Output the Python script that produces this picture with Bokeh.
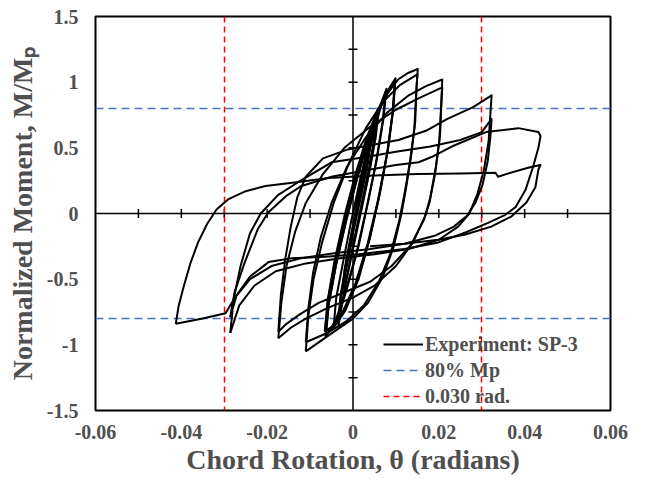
import math
from bokeh.plotting import figure
from bokeh.models import Span, FixedTicker, Legend, LegendItem
from bokeh.embed import file_html
from bokeh.resources import INLINE

# ---------------- data (chord rotation [rad], normalized moment M/Mp) ----------------
cyc_e1 = [(0, 0), (0.0015, 0.2), (0.003, 0.42), (0.004, 0.58), (0.0035, 0.42), (0.002, 0.18),
          (0.0, -0.12), (-0.0013, -0.36), (-0.0025, -0.6), (-0.002, -0.43), (-0.0005, -0.17),
          (0.001, 0.07), (0.0025, 0.31), (0.0042, 0.58), (0.0036, 0.4), (0.002, 0.15),
          (0.0, -0.15), (-0.0014, -0.39), (-0.0026, -0.6)]
cyc_e2 = [(-0.0026, -0.6), (-0.0015, -0.36), (0.0, -0.1), (0.0015, 0.15), (0.003, 0.39),
          (0.0045, 0.61), (0.0058, 0.8), (0.0051, 0.6), (0.0037, 0.34), (0.0019, 0.06),
          (0.0, -0.24), (-0.0018, -0.54), (-0.0034, -0.86), (-0.0028, -0.63), (-0.0014, -0.37),
          (0.0002, -0.1), (0.002, 0.2), (0.0038, 0.48), (0.006, 0.79), (0.0053, 0.58),
          (0.0038, 0.31), (0.002, 0.03), (0.0, -0.27), (-0.0019, -0.57), (-0.0035, -0.84)]
cyc_e3a = [(-0.0035, -0.84), (-0.0029, -0.62), (-0.0013, -0.33), (0.0005, -0.03), (0.0025, 0.29),
           (0.0045, 0.57), (0.0062, 0.78), (0.0078, 0.95), (0.0071, 0.72), (0.0056, 0.42),
           (0.0036, 0.1), (0.0013, -0.25), (-0.0014, -0.57), (-0.003, -0.74), (-0.0045, -0.86)]
cyc_e3b = [(-0.0045, -0.86), (-0.0039, -0.64), (-0.0022, -0.35), (-0.0003, -0.04), (0.0018, 0.28),
           (0.0038, 0.56), (0.0058, 0.78), (0.0076, 0.93), (0.0069, 0.7), (0.0053, 0.38),
           (0.0032, 0.05), (0.0008, -0.3), (-0.0018, -0.6), (-0.004, -0.81), (-0.0064, -0.94)]
cyc_10a = [(-0.0064, -0.94), (-0.0057, -0.7), (-0.004, -0.4), (-0.0017, -0.07), (0.0008, 0.25),
           (0.0034, 0.55), (0.0058, 0.78), (0.008, 0.93), (0.0099, 1.03), (0.0094, 0.8),
           (0.0082, 0.5), (0.0063, 0.16), (0.004, -0.18), (0.0013, -0.5), (-0.0018, -0.74),
           (-0.0045, -0.87), (-0.0063, -0.92)]
cyc_10b = [(-0.0063, -0.92), (-0.0056, -0.68), (-0.0039, -0.38), (-0.0015, -0.04), (0.001, 0.27),
           (0.0036, 0.56), (0.006, 0.78), (0.008, 0.91), (0.0098, 1.0), (0.0093, 0.78),
           (0.0081, 0.48), (0.0061, 0.13), (0.0038, -0.2), (0.001, -0.51), (-0.002, -0.74),
           (-0.0046, -0.86), (-0.0065, -0.9)]
cyc_10c = [(-0.0065, -0.9), (-0.0059, -0.66), (-0.0043, -0.36), (-0.002, -0.02), (0.0004, 0.28),
           (0.003, 0.56), (0.0055, 0.77), (0.0077, 0.9), (0.0097, 0.99), (0.0092, 0.76),
           (0.0079, 0.45), (0.0058, 0.1), (0.0034, -0.23), (0.0006, -0.53), (-0.0024, -0.75),
           (-0.0048, -0.86), (-0.0066, -0.9)]
cyc_15a = [(-0.0066, -0.9), (-0.0058, -0.65), (-0.0041, -0.35), (-0.0019, -0.05), (0.0005, 0.25),
           (0.003, 0.52), (0.0055, 0.75), (0.008, 0.92), (0.0105, 1.02), (0.0128, 1.07),
           (0.0151, 1.1), (0.0148, 0.96), (0.0145, 0.7), (0.0136, 0.45), (0.0124, 0.2),
           (0.0113, 0.0), (0.0095, -0.25), (0.007, -0.48), (0.0035, -0.68), (0.0, -0.8),
           (-0.004, -0.89), (-0.0075, -0.97), (-0.011, -1.05)]
cyc_15b = [(-0.011, -1.05), (-0.0104, -0.78), (-0.0092, -0.5), (-0.0072, -0.22), (-0.0045, 0.08),
           (-0.001, 0.38), (0.003, 0.65), (0.007, 0.85), (0.011, 0.98), (0.015, 1.06),
           (0.0147, 0.9), (0.0143, 0.65), (0.0133, 0.4), (0.012, 0.15), (0.0108, -0.05),
           (0.0088, -0.3), (0.006, -0.52), (0.0025, -0.7), (-0.0015, -0.82), (-0.006, -0.91),
           (-0.011, -0.98)]
cyc_20a = [(-0.011, -0.98), (-0.0104, -0.72), (-0.0093, -0.45), (-0.0075, -0.18), (-0.005, 0.08),
           (-0.0015, 0.35), (0.003, 0.58), (0.008, 0.77), (0.013, 0.9), (0.017, 0.97),
           (0.0208, 1.02), (0.0206, 0.85), (0.0203, 0.6), (0.0193, 0.35), (0.018, 0.12),
           (0.0168, -0.02), (0.014, -0.22), (0.01, -0.4), (0.005, -0.55), (0.0, -0.64),
           (-0.006, -0.72), (-0.011, -0.8), (-0.0145, -0.87), (-0.0174, -0.95)]
cyc_20b = [(-0.0174, -0.95), (-0.0167, -0.68), (-0.0155, -0.4), (-0.0135, -0.14), (-0.011, 0.08),
           (-0.007, 0.3), (-0.002, 0.5), (0.004, 0.66), (0.01, 0.79), (0.0155, 0.88),
           (0.0208, 0.96), (0.0205, 0.8), (0.0201, 0.55), (0.0191, 0.3), (0.0178, 0.08),
           (0.0165, -0.05), (0.0135, -0.24), (0.009, -0.4), (0.004, -0.52), (-0.002, -0.6),
           (-0.008, -0.68), (-0.0125, -0.77), (-0.0155, -0.84), (-0.0174, -0.9)]
cyc_30a = [(-0.0174, -0.9), (-0.0168, -0.62), (-0.0158, -0.35), (-0.0145, -0.1), (-0.013, 0.12),
           (-0.011, 0.28), (-0.007, 0.42), (-0.001, 0.49), (0.0106, 0.56), (0.017, 0.63),
           (0.022, 0.72), (0.028, 0.81), (0.0323, 0.9), (0.032, 0.75), (0.0316, 0.55),
           (0.0305, 0.33), (0.029, 0.15), (0.0271, 0.0), (0.0245, -0.1), (0.02, -0.2),
           (0.013, -0.27), (0.005, -0.31), (-0.003, -0.34), (-0.011, -0.38), (-0.018, -0.44),
           (-0.023, -0.55), (-0.0265, -0.7), (-0.0286, -0.91)]
cyc_30b = [(-0.0286, -0.91), (-0.0278, -0.65), (-0.0262, -0.4), (-0.024, -0.15), (-0.0215, 0.0),
           (-0.0175, 0.14), (-0.0127, 0.24), (-0.005, 0.39), (0.003, 0.43), (0.01, 0.47),
           (0.018, 0.51), (0.025, 0.56), (0.03, 0.62), (0.0323, 0.72), (0.032, 0.58),
           (0.0314, 0.4), (0.0302, 0.22), (0.0285, 0.08), (0.0265, -0.02), (0.0235, -0.1),
           (0.019, -0.17), (0.012, -0.23), (0.004, -0.27), (-0.004, -0.3), (-0.012, -0.34),
           (-0.019, -0.4), (-0.024, -0.5), (-0.0272, -0.63), (-0.0286, -0.79)]
cyc_40a = [(-0.0286, -0.79), (-0.0276, -0.6), (-0.0252, -0.37), (-0.0222, -0.12), (-0.0197, 0.01),
           (-0.0157, 0.13), (-0.012, 0.21), (-0.005, 0.28), (0.003, 0.33), (0.01, 0.37),
           (0.0153, 0.39), (0.0183, 0.43), (0.023, 0.51), (0.031, 0.62), (0.0385, 0.65),
           (0.0432, 0.62), (0.0437, 0.59), (0.0432, 0.5), (0.042, 0.36), (0.0402, 0.18),
           (0.0379, 0.05), (0.0355, -0.01), (0.0316, -0.07), (0.0262, -0.145), (0.0199, -0.22),
           (0.012, -0.27), (0.0013, -0.31), (-0.0064, -0.33), (-0.0143, -0.34), (-0.0197, -0.37),
           (-0.024, -0.48), (-0.0275, -0.64), (-0.0297, -0.76), (-0.035, -0.8), (-0.0413, -0.84)]
cyc_40b = [(-0.0413, -0.84), (-0.0406, -0.7), (-0.0394, -0.55), (-0.0379, -0.38), (-0.0361, -0.22),
           (-0.034, -0.08), (-0.0318, 0.03), (-0.029, 0.11), (-0.025, 0.17), (-0.0204, 0.21),
           (-0.0127, 0.24), (-0.0057, 0.27), (0.005, 0.29), (0.015, 0.3), (0.025, 0.305),
           (0.0332, 0.31), (0.0338, 0.28), (0.0357, 0.3), (0.041, 0.35), (0.0437, 0.37),
           (0.0432, 0.335), (0.0425, 0.2), (0.0404, 0.084), (0.0369, -0.023), (0.0322, -0.1),
           (0.0262, -0.16), (0.0199, -0.2), (0.012, -0.23), (0.004, -0.25)]

mp_levels = [0.8, -0.8]          # 80% Mp
rot_limits = [0.03, -0.03]       # 0.030 rad.

x_ticks = [-0.06, -0.04, -0.02, 0, 0.02, 0.04, 0.06]
x_tick_labels = ["-0.06", "-0.04", "-0.02", "0", "0.02", "0.04", "0.06"]
y_ticks = [-1.5, -1, -0.5, 0, 0.5, 1, 1.5]
y_tick_labels = ["-1.5", "-1", "-0.5", "0", "0.5", "1", "1.5"]
x_center_ticks = [-0.05, -0.04, -0.03, -0.02, -0.01, 0.01, 0.02, 0.03, 0.04, 0.05]
y_center_ticks = [-1.25, -1.0, -0.75, -0.5, -0.25, 0.25, 0.5, 0.75, 1.0, 1.25]

cycles = [cyc_e1, cyc_e2, cyc_e3a, cyc_e3b, cyc_10a, cyc_10b, cyc_10c, cyc_15a, cyc_15b,
          cyc_20a, cyc_20b, cyc_30a, cyc_30b, cyc_40a, cyc_40b]

# ---------------- figure ----------------
TXT = "#4f4f4f"
FONT = "Liberation Serif"

p = figure(frame_width=515, frame_height=394, x_range=(-0.06, 0.06), y_range=(-1.5, 1.5),
           output_backend="svg", toolbar_location=None,
           min_border_left=95, min_border_right=26, min_border_top=16, min_border_bottom=60,
           background_fill_color="white", border_fill_color="white")
p.xgrid.visible = False
p.ygrid.visible = False
p.outline_line_color = "black"
p.outline_line_width = 2

for ax, ticks, labels in ((p.xaxis[0], x_ticks, x_tick_labels), (p.yaxis[0], y_ticks, y_tick_labels)):
    ax.ticker = FixedTicker(ticks=ticks)
    ax.major_label_overrides = {t: l for t, l in zip(ticks, labels)}
    ax.axis_line_color = None
    ax.major_tick_line_color = None
    ax.minor_tick_line_color = None
    ax.major_tick_out = 0
    ax.major_tick_in = 0
    ax.major_label_text_font = FONT
    ax.major_label_text_font_style = "bold"
    ax.major_label_text_font_size = "20px"
    ax.major_label_text_color = TXT
    ax.axis_label_text_font = FONT
    ax.axis_label_text_font_style = "bold"
    ax.axis_label_text_font_size = "28px"
    ax.axis_label_text_color = TXT

p.xaxis.major_label_standoff = 14
p.yaxis.major_label_standoff = 17
p.xaxis.axis_label = "Chord Rotation, θ (radians)"
p.yaxis.axis_label = "Normalized Moment, M/Mₚ"
p.xaxis.axis_label_standoff = 2
p.yaxis.axis_label_standoff = 6

# axes through the origin with crossing ticks
p.add_layout(Span(location=0, dimension="height", line_color="black", line_width=1.5))
p.add_layout(Span(location=0, dimension="width", line_color="black", line_width=1.5))
p.scatter(x=x_center_ticks, y=[0] * len(x_center_ticks), marker="dash", size=9,
          angle=math.pi / 2, line_color="black", line_width=1.5)
p.scatter(x=[0] * len(y_center_ticks), y=y_center_ticks, marker="dash", size=9,
          line_color="black", line_width=1.5)

# reference lines
r_mp = p.hspan(y=mp_levels, line_color="#4472C4", line_dash="8 5", line_width=1.5)
r_rot = p.vspan(x=rot_limits, line_color="#FF0000", line_dash="6 4", line_width=1.5)

# experiment hysteresis
xs = [[pt[0] for pt in c] for c in cycles]
ys = [[pt[1] for pt in c] for c in cycles]
r_exp = p.multi_line(xs=xs, ys=ys, line_color="black", line_width=2, line_join="round")

legend = Legend(items=[LegendItem(label="Experiment: SP-3", renderers=[r_exp]),
                       LegendItem(label="80% Mp", renderers=[r_mp]),
                       LegendItem(label="0.030 rad.", renderers=[r_rot])],
                location=(288, 1))
legend.background_fill_alpha = 0
legend.border_line_alpha = 0
legend.label_text_font = FONT
legend.label_text_font_style = "bold"
legend.label_text_font_size = "20px"
legend.label_text_color = TXT
legend.glyph_width = 40
legend.glyph_height = 26
legend.label_height = 26
legend.spacing = 0
legend.padding = 0
legend.margin = 0
legend.label_standoff = 2
p.add_layout(legend)

open("out.html", "w").write(file_html(p, INLINE))
